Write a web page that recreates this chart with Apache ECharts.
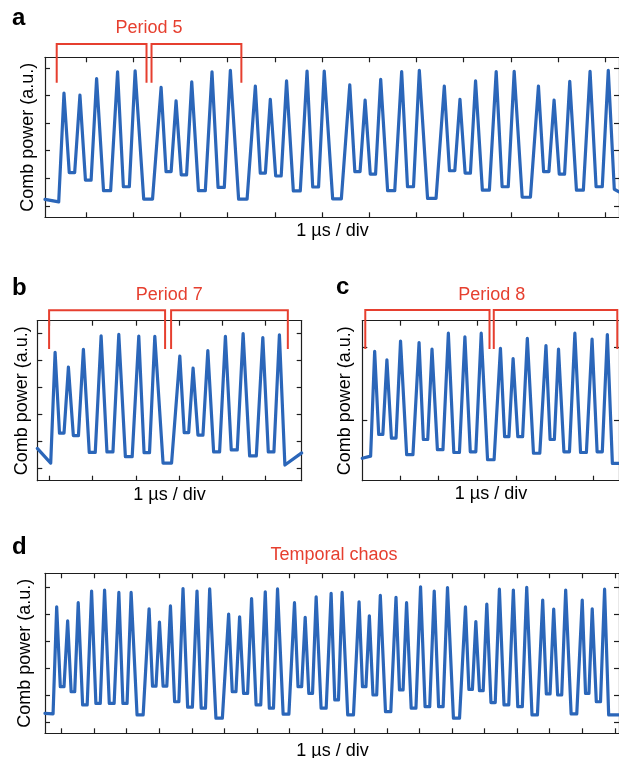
<!DOCTYPE html>
<html><head><meta charset="utf-8">
<script src="https://cdn.jsdelivr.net/npm/echarts@6/dist/echarts.min.js"></script>
<style>html,body{margin:0;padding:0;background:#fff}#c{width:619px;height:758px}</style>
</head><body><div id="c"></div>
<script>
// ---------- Panel a : period 5 ----------
const aPeakT = [-0.465,-0.127,0.226,0.670,1.042, 1.592,1.909,2.241,2.670,3.059, 3.588,3.905,4.249,4.683,5.047, 5.588,5.913,6.243,6.687,7.061, 7.590,7.922,8.252,8.689,9.070, 9.584,9.915,10.247,10.677,11.063];
const aPeakH = [4.08,4.01,4.61,4.85,4.89, 4.29,3.80,4.49,4.85,4.91, 4.34,3.86,4.53,4.88,4.88, 4.38,3.83,4.58,4.86,4.91, 4.34,3.86,4.53,4.86,4.87, 4.34,3.83,4.51,4.87,4.91];
const aTrough = [1.20,0.93,0.55,0.69,0.24, 1.24,1.12,0.55,0.67,0.24, 1.18,1.08,0.54,0.68,0.25, 1.24,1.15,0.55,0.69,0.27, 1.27,1.18,0.57,0.69,0.31, 1.24,1.15,0.57,0.69];
const aEdge = [0.23, 0.14, 0.60, 0.51];   // left edge, floor before first peak, floor after last peak, right edge
const aBracketX = [[-0.619, 1.283], [1.389, 3.292]];
const aBracketY = [4.46, 5.86];
const aTicksX = [0,1,2,3,4,5,6,7,8,9,10,11];
const aTicksY = [0,1,2,3,4,5];

// ---------- Panel b : period 7 ----------
const bPeakT = [0.132,0.440,0.787,1.197,1.606,2.069,2.440, 3.019,3.326,3.667,4.074,4.484,4.940,5.324];
const bPeakH = [4.30,3.75,4.41,4.91,4.96,4.90,4.89, 4.16,3.71,4.36,4.89,4.99,4.84,4.95];
const bTrough = [1.30,1.21,0.59,0.61,0.43,0.58, 0.19, 1.32,1.23,0.61,0.68,0.46,0.61];
const bEdge = [0.74, 0.19, 0.12, 0.57];
const bBracketX = [[-0.007, 2.678], [2.817, 5.519]];
const bBracketY = [4.42, 5.86];
const bTicksX = [0,1,2,3,4,5];
const bTicksY = [0,1,2,3,4,5];

// ---------- Panel c : period 8 ----------
const cPeakT = [-0.650,-0.334,0.018,0.496,0.830,1.252,1.679,2.100, 2.596,2.923,3.290,3.771,4.095,4.517,4.961,5.355];
const cPeakH = [1.95,1.83,2.09,2.07,1.98,2.20,2.15,2.20, 1.99,1.85,2.13,2.03,1.98,2.20,2.12,2.18];
const cTrough = [0.80,0.75,0.52,0.73,0.59,0.55,0.56, 0.45, 0.77,0.77,0.54,0.73,0.56,0.55,0.56];
const cEdge = [0.47, 0.50, 0.40, 0.40];
const cBracketX = [[-0.892, 2.314], [2.424, 5.612]];
const cBracketY = [1.98, 2.52];
const cTicksX = [0,1,2,3,4,5];
const cTicksY = [1,2];

// ---------- Panel d : temporal chaos ----------
const dPeakT = [-0.153,0.184,0.509,0.920,1.319,1.758,2.135, 2.687,3.006,3.344,3.730,4.160,4.549, 5.132,5.469,5.837,6.258,6.635, 7.156,7.485,7.822,8.282,8.620, 9.141,9.457,9.794,10.276,10.601,11.031,11.451,11.859, 12.411,12.730,13.067,13.454,13.883,14.294, 14.785,15.123,15.491, 16.000,16.307,16.687];
const dPeakH = [4.28,3.76,4.43,4.86,4.90,4.81,4.81, 4.20,3.71,4.31,4.95,4.86,4.94, 4.01,3.91,4.58,4.83,4.94, 4.43,3.89,4.65,4.78,4.81, 4.46,3.94,4.70,4.63,4.43,5.02,4.86,4.99, 4.28,3.73,4.38,4.93,4.90,5.00, 4.53,4.19,4.90, 4.53,4.20,4.93];
const dTrough = [1.32,1.13,0.64,0.70,0.70,0.70, 0.27, 1.34,1.34,0.76,0.56,0.52, 0.15, 1.13,1.07,0.64,0.52, 0.30, 1.32,1.07,0.52,0.83, 0.27, 1.32,1.01,0.39,1.20,0.52,0.58,0.58, 0.15, 1.22,1.17,0.73,0.64,0.58, 0.27, 1.05,1.01, 0.31, 1.07,0.76];
const dEdge = [0.33, 0.31, 0.27, 0.27];
const dTicksX = [0,1,2,3,4,5,6,7,8,9,10,11,12,13,14,15,16,17];
const dTicksY = [0,1,2,3,4,5];

// ---------- labels ----------
const panelLetters = ['a','b','c','d'];
const panelTitles = ['Period 5','Period 7','Period 8','Temporal chaos'];
const xName = '1 \u00b5s / div';
const yName = 'Comb power (a.u.)';

// ---------- layout (pixels) ----------
const panels = [
  {box:[45, 57.3, 575, 160],   xr:[-0.867, 11.29], yr:[-0.417, 5.38], d:[aPeakT,aPeakH,aTrough,aEdge], bx:aBracketX, by:aBracketY, tx:aTicksX, ty:aTicksY,
   letter:[12, 18.5], title:[149, 28.5], xn:[332.5, 231], yn:[28.2, 137.3]},
  {box:[37.3, 320.7, 264.4, 160], xr:[-0.28, 5.84], yr:[-0.46, 5.47], d:[bPeakT,bPeakH,bTrough,bEdge], bx:bBracketX, by:bBracketY, tx:bTicksX, ty:bTicksY,
   letter:[12, 288.3], title:[169.3, 295], xn:[169.5, 495.5], yn:[21.6, 400.7]},
  {box:[362.3, 320.7, 257.7, 160], xr:[-0.969, 5.656], yr:[0.16, 2.373], d:[cPeakT,cPeakH,cTrough,cEdge], bx:cBracketX, by:cBracketY, tx:cTicksX, ty:cTicksY,
   letter:[336, 287.6], title:[491.7, 295], xn:[491, 494], yn:[344.9, 400.7]},
  {box:[45, 573.3, 575, 160],  xr:[-0.512, 17.13], yr:[-0.41, 5.52], d:[dPeakT,dPeakH,dTrough,dEdge], bx:null, by:null, tx:dTicksX, ty:dTicksY,
   letter:[12, 547.6], title:[334, 555.5], xn:[332.5, 751], yn:[24.9, 653.3]}
];

const FOOT = 0.33; // fraction of the gap over which a pulse rises/falls
function trace(t, h, tr, edge, xmin, xmax) {
  const n = t.length;
  const pts = [[xmin, edge[0]]];
  if (edge[1] != null) pts.push([t[0] - FOOT * (t[1] - t[0]), edge[1]]);
  pts.push([t[0], h[0]]);
  for (let i = 0; i < n - 1; i++) {
    const g = t[i + 1] - t[i];
    pts.push([t[i] + FOOT * g, tr[i]], [t[i + 1] - FOOT * g, tr[i]], [t[i + 1], h[i + 1]]);
  }
  if (edge[2] != null) pts.push([t[n - 1] + FOOT * (t[n - 1] - t[n - 2]), edge[2]]);
  pts.push([xmax, edge[3]]);
  return pts;
}

const FONT = '"Liberation Sans", Arial, Helvetica, sans-serif';
const AX = '#1e1e1e';
const BLUE = '#2b66b9';
const RED = '#e63f2f';

const grid = [], xAxis = [], yAxis = [], series = [], graphic = [];
panels.forEach((p, gi) => {
  grid.push({left: p.box[0], top: p.box[1], width: p.box[2], height: p.box[3], show: false});
  const line = {show: true, onZero: false, lineStyle: {color: AX, width: 1.2}};
  const tick = v => ({show: true, inside: true, length: 5, customValues: v, lineStyle: {color: AX, width: 1.2}});
  const common = {type: 'value', gridIndex: gi, axisLine: line, axisLabel: {show: false}, splitLine: {show: false}};
  xAxis.push(Object.assign({}, common, {position: 'bottom', min: p.xr[0], max: p.xr[1], axisTick: tick(p.tx)}));
  xAxis.push(Object.assign({}, common, {position: 'top', min: p.xr[0], max: p.xr[1], axisTick: tick(p.tx)}));
  yAxis.push(Object.assign({}, common, {position: 'left', min: p.yr[0], max: p.yr[1], axisTick: tick(p.ty)}));
  yAxis.push(Object.assign({}, common, {position: 'right', min: p.yr[0], max: p.yr[1], axisTick: tick(p.ty)}));
  const [t, h, tr, edge] = p.d;
  series.push({type: 'line', xAxisIndex: 2 * gi, yAxisIndex: 2 * gi, data: trace(t, h, tr, edge, p.xr[0], p.xr[1]),
    symbol: 'none', clip: true, z: 3, smooth: false,
    lineStyle: {color: BLUE, width: 3.2, join: 'round', cap: 'round'}});
  if (p.bx) {
    p.bx.forEach(b => {
      series.push({type: 'line', xAxisIndex: 2 * gi, yAxisIndex: 2 * gi, clip: false, symbol: 'none', z: 4,
        data: [[b[0], p.by[0]], [b[0], p.by[1]], [b[1], p.by[1]], [b[1], p.by[0]]],
        lineStyle: {color: RED, width: 2, join: 'miter'}});
    });
  }
  graphic.push({type: 'text', x: p.letter[0], y: p.letter[1], style: {text: panelLetters[gi], font: 'bold 24px ' + FONT, fill: '#000', align: 'left', verticalAlign: 'middle'}});
  graphic.push({type: 'text', x: p.title[0], y: p.title[1], style: {text: panelTitles[gi], font: '18px ' + FONT, fill: RED, align: 'center', verticalAlign: 'middle'}});
  graphic.push({type: 'text', x: p.xn[0], y: p.xn[1], style: {text: xName, font: '18px ' + FONT, fill: '#000', align: 'center', verticalAlign: 'middle'}});
  graphic.push({type: 'text', x: p.yn[0], y: p.yn[1], rotation: Math.PI / 2, style: {text: yName, font: '18px ' + FONT, fill: '#000', align: 'center', verticalAlign: 'middle'}});
});

const chart = echarts.init(document.getElementById('c'), null, {renderer: 'canvas'});
chart.setOption({animation: false, backgroundColor: '#fff', grid, xAxis, yAxis, series, graphic});
</script></body></html>
